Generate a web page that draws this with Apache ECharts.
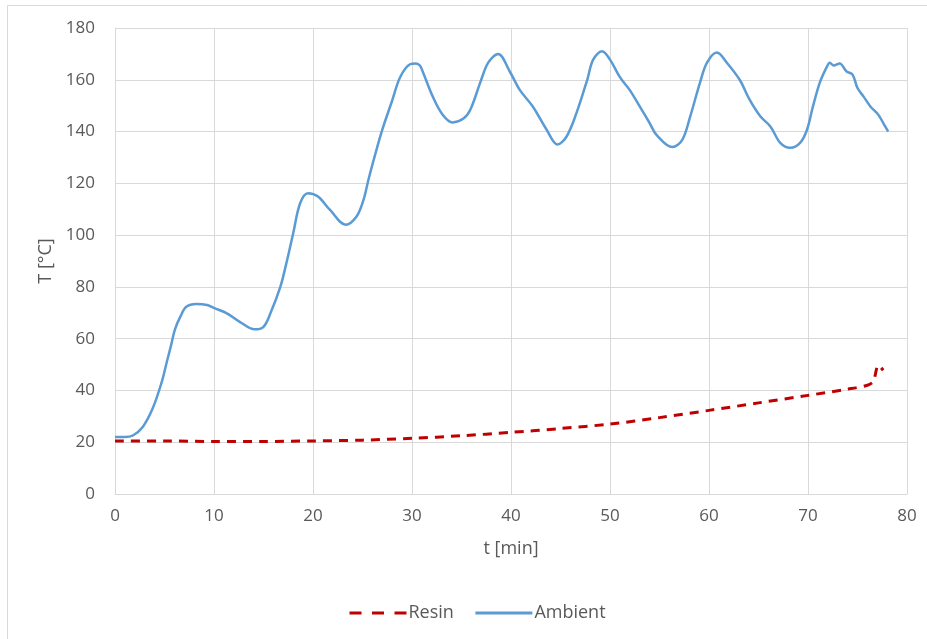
<!DOCTYPE html>
<html>
<head>
<meta charset="utf-8">
<script src="https://cdn.jsdelivr.net/npm/echarts@6/dist/echarts.min.js"></script>
<style>
  html, body { margin: 0; padding: 0; background: #fff; }
  #chart { width: 927px; height: 639px; }
</style>
</head>
<body>
<div id="chart"></div>
<script>
// Temperature logs over the cure cycle (time in minutes, temperature in °C)
const ambientTime = [0, 1, 1.8, 2.8, 3.8, 4.7, 5.2, 5.7, 6.05, 6.6,
  7.2, 8.2, 9.3, 10.1, 11.3, 12.6, 14.1, 15, 15.7, 16.7,
  17.3, 18, 18.7, 19.5, 20.5, 21.7, 23.3, 24.4, 25.1, 25.6,
  26.2, 27, 28, 28.8, 29.8, 30.4, 30.8, 31.1, 32.1, 33.1,
  34.1, 35.2, 35.9, 36.9, 37.7, 38.7, 39.9, 40.9, 42.2, 43.6,
  44.7, 45.6, 46.6, 47.7, 48.3, 49.2, 50, 51, 52, 53,
  54, 54.7, 56.3, 57.3, 58.1, 59.1, 59.8, 60.8, 61.8, 63.1,
  64.1, 65.2, 66.2, 67.2, 68.2, 69.2, 69.9, 70.5, 71.2, 71.9,
  72.2, 72.6, 73.2, 73.9, 74.5, 75, 75.6, 76.3, 77.1, 77.6, 78.1];
const ambientTemp = [22, 22, 22.6, 25.9, 33, 43, 50.5, 58, 63.5, 68.5,
  72.3, 73.4, 73, 71.7, 69.8, 66.5, 63.6, 64.6, 69.8, 80,
  89, 100.7, 112.3, 116.2, 114.9, 109.8, 104, 107.2, 113.6, 121.4,
  130, 140.7, 152, 161, 166, 166.3, 165.5, 163, 153.5, 146.5,
  143.5, 145, 148.5, 159, 166.6, 170, 163, 156, 149.7, 140.7,
  135, 138, 147, 160, 167.8, 171, 167.8, 161, 156, 149.7,
  143.3, 138.7, 134, 136.8, 145.8, 159, 166.6, 170.5, 166.6, 160,
  152.3, 145.8, 142, 135.6, 133.7, 135.6, 140.7, 149.7, 159, 165,
  166.6, 165.5, 166.3, 163.2, 162, 156.8, 153.6, 149.7, 146.5, 143.3, 140];

const resinTime = [0, 5, 10, 15, 20, 25, 30, 35, 40, 45, 50, 55, 60, 65, 70, 74, 76, 76.6, 77.1, 77.6];
const resinTemp = [20.5, 20.5, 20.3, 20.3, 20.5, 20.8, 21.5, 22.5, 23.8, 25.3, 27, 29.5, 32.3, 35.2, 38.1, 40.5, 42, 43.5, 49.7, 47.8];

const xTicks = { min: 0, max: 80, interval: 10 };
const yTicks = { min: 0, max: 180, interval: 20 };

const pairs = (xs, ys) => xs.map((x, i) => [x, ys[i]]);

const textColor = '#595959';
const gridColor = '#d9d9d9';
const resinColor = '#c00000';
const ambientColor = '#5b9bd5';
const font = 'Open Sans, Noto Sans, sans-serif';

const chart = echarts.init(document.getElementById('chart'), null, { renderer: 'canvas' });
chart.setOption({
  animation: false,
  backgroundColor: '#fff',
  textStyle: { fontFamily: font },
  grid: { left: 115, top: 28, right: 20, bottom: 145, containLabel: false },
  graphic: [
    { type: 'line', shape: { x1: 7.5, y1: 5.5, x2: 927, y2: 5.5 }, style: { stroke: gridColor, lineWidth: 1 } },
    { type: 'line', shape: { x1: 7.5, y1: 5.5, x2: 7.5, y2: 639 }, style: { stroke: gridColor, lineWidth: 1 } }
  ],
  legend: {
    left: 343,
    top: 599,
    itemWidth: 57,
    itemHeight: 3,
    itemGap: 20,
    itemStyle: { opacity: 0 },
    textStyle: { color: textColor, fontSize: 18, fontFamily: font, padding: [0, 0, 0, -3] },
    data: [
      { name: 'Resin', lineStyle: { color: resinColor, width: 3, type: [12, 10.5] } },
      { name: 'Ambient', lineStyle: { color: ambientColor, width: 3 } }
    ]
  },
  xAxis: {
    type: 'value',
    min: xTicks.min, max: xTicks.max, interval: xTicks.interval,
    name: 't [min]',
    nameLocation: 'middle',
    nameGap: 46,
    nameTextStyle: { color: textColor, fontSize: 18 },
    axisLine: { show: true, lineStyle: { color: gridColor, width: 1 } },
    axisTick: { show: false },
    axisLabel: { color: textColor, fontSize: 17, margin: 14 },
    splitLine: { show: true, lineStyle: { color: gridColor, width: 1 } }
  },
  yAxis: {
    type: 'value',
    min: yTicks.min, max: yTicks.max, interval: yTicks.interval,
    name: 'T [°C]',
    nameLocation: 'middle',
    nameGap: 56,
    nameTextStyle: { color: textColor, fontSize: 18 },
    axisLine: { show: true, lineStyle: { color: gridColor, width: 1 } },
    axisTick: { show: false },
    axisLabel: { color: textColor, fontSize: 17, margin: 20 },
    splitLine: { show: true, lineStyle: { color: gridColor, width: 1 } }
  },
  series: [
    {
      name: 'Resin',
      type: 'line',
      data: pairs(resinTime, resinTemp),
      showSymbol: false,
      symbol: 'none',
      smooth: 0.3,
      z: 3,
      itemStyle: { color: resinColor },
      lineStyle: { color: resinColor, width: 3, type: [9, 7] }
    },
    {
      name: 'Ambient',
      type: 'line',
      data: pairs(ambientTime, ambientTemp),
      showSymbol: false,
      symbol: 'none',
      smooth: 0.35,
      z: 2,
      itemStyle: { color: ambientColor },
      lineStyle: { color: ambientColor, width: 2.5 }
    }
  ]
});
</script>
</body>
</html>
